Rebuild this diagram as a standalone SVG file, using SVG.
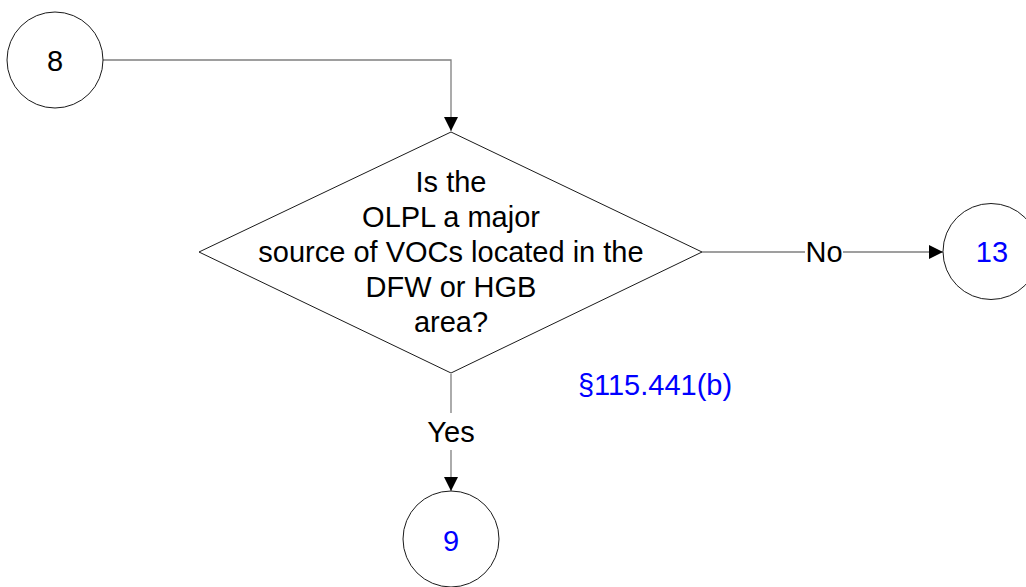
<svg xmlns="http://www.w3.org/2000/svg" width="1026" height="587" viewBox="0 0 1026 587">
<style>
.shape{fill:#fff;stroke:#1a1a1a;stroke-width:1}
.conn{fill:none;stroke:#7f7f7f;stroke-width:1.3}
text{font-family:"Liberation Sans",Arial,sans-serif;font-size:29px;text-anchor:middle}
.k{fill:#000}
.b{fill:#0000ff}
.lbl{fill:#000}
</style>
<defs>
<marker id="arr" viewBox="0 0 14 14" refX="14" refY="7" markerWidth="14" markerHeight="14" markerUnits="userSpaceOnUse" orient="auto">
<path d="M0,0 L14,7 L0,14 Z" fill="#000"/>
</marker>
</defs>
<rect width="1026" height="587" fill="#fff"/>
<g id="connectors">
<path class="conn" d="M103,60 H451 V131" marker-end="url(#arr)"/>
<path class="conn" d="M702,252 H943" marker-end="url(#arr)"/>
<path class="conn" d="M451,374 V491" marker-end="url(#arr)"/>
<rect x="805" y="238" width="38" height="30" fill="#fff"/>
<text class="lbl" x="824" y="261.5">No</text>
<rect x="425" y="413" width="52" height="37" fill="#fff"/>
<text class="lbl" x="451" y="442">Yes</text>
</g>
<g id="node8">
<circle class="shape" cx="55" cy="60" r="48"/>
<text class="k" x="55" y="70.5">8</text>
</g>
<g id="decision">
<polygon class="shape" points="451,132 702,252 451,373 199,252"/>
<text class="k" x="451" y="192">Is the</text>
<text class="k" x="451" y="227">OLPL a major</text>
<text class="k" x="451" y="262">source of VOCs located in the</text>
<text class="k" x="451" y="297">DFW or HGB</text>
<text class="k" x="451" y="332">area?</text>
</g>
<g id="node13">
<circle class="shape" cx="991" cy="251.5" r="48"/>
<text class="b" x="992" y="262">13</text>
</g>
<g id="node9">
<circle class="shape" cx="451" cy="539" r="48"/>
<text class="b" x="451" y="550.5">9</text>
</g>
<g id="ref">
<text class="b" x="655" y="395">§115.441(b)</text>
</g>
</svg>
